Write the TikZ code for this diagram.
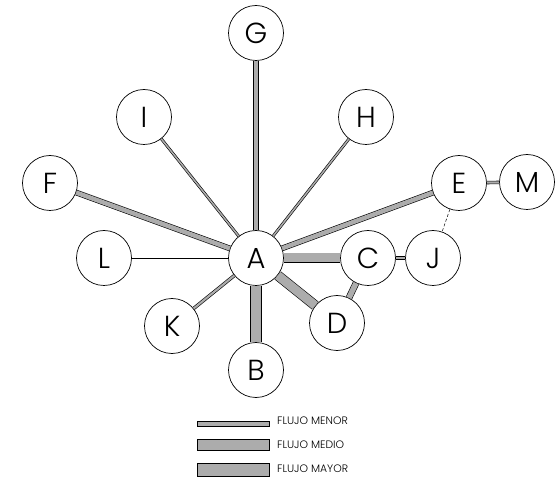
\documentclass[tikz,border=0pt]{standalone}
\usepackage{fontspec}
\setmainfont{Poppins}[UprightFont=* Light]
\begin{document}
\begin{tikzpicture}[x=1pt,y=-1pt,
  nd/.style={circle,draw,line width=0.7pt,minimum size=55pt,inner sep=0pt,fill=white,font=\fontsize{29}{29}\selectfont},
  fl/.style={draw=black,line width=0.6pt,double=gray!65,double distance=#1},
  thin1/.style={draw=black,line width=0.6pt},
  lg/.style={draw=black,line width=0.7pt,fill=gray!65,inner sep=0pt,anchor=west,minimum width=72pt},
  lt/.style={anchor=west,inner sep=0pt,font=\fontsize{10.8}{11}\selectfont}]
\useasboundingbox (0,0) rectangle (555,481);
\node[nd] (A) at (256,258) {A};
\node[nd] (G) at (256,33) {G};
\node[nd] (I) at (144,117) {I};
\node[nd] (H) at (366,117) {H};
\node[nd] (F) at (50,183) {F};
\node[nd] (L) at (104,258) {L};
\node[nd] (K) at (172,326) {K};
\node[nd] (B) at (256,370) {B};
\node[nd] (E) at (459,183) {E};
\node[nd] (M) at (527,182) {M};
\node[nd] (C) at (368,258) {C};
\node[nd] (J) at (433,258) {J};
\node[nd] (D) at (337,323) {D};
\path[fl=4.5pt] (A) -- (G);
\path[fl=1.6pt] (A) -- (I);
\path[fl=1.6pt] (A) -- (H);
\path[fl=4.5pt] (A) -- (F);
\path[fl=4.5pt] (A) -- (E);
\path[thin1] (A) -- (L);
\path[fl=2.2pt] (A) -- (K);
\path[fl=10pt] (A) -- (B);
\path[fl=9pt] (A) -- (C);
\path[fl=9pt] (A) -- (D);
\path[fl=5.5pt] (C) -- (D);
\path[fl=2.2pt] (C) -- (J);
\path[fl=2.2pt] (E) -- (M);
\path[thin1,line width=0.5pt,dash pattern=on 3pt off 2pt] (E) -- (J);
\node[lg,minimum height=5.5pt] (r1) at (197,424) {};
\node[lg,minimum height=11pt] (r2) at (197,445) {};
\node[lg,minimum height=13.5pt] (r3) at (197,470) {};
\node[lt] (t1) at (277,421) {FLUJO MENOR};
\node[lt] (t2) at (277,445) {FLUJO MEDIO};
\node[lt] (t3) at (277,469) {FLUJO MAYOR};
\end{tikzpicture}
\end{document}
